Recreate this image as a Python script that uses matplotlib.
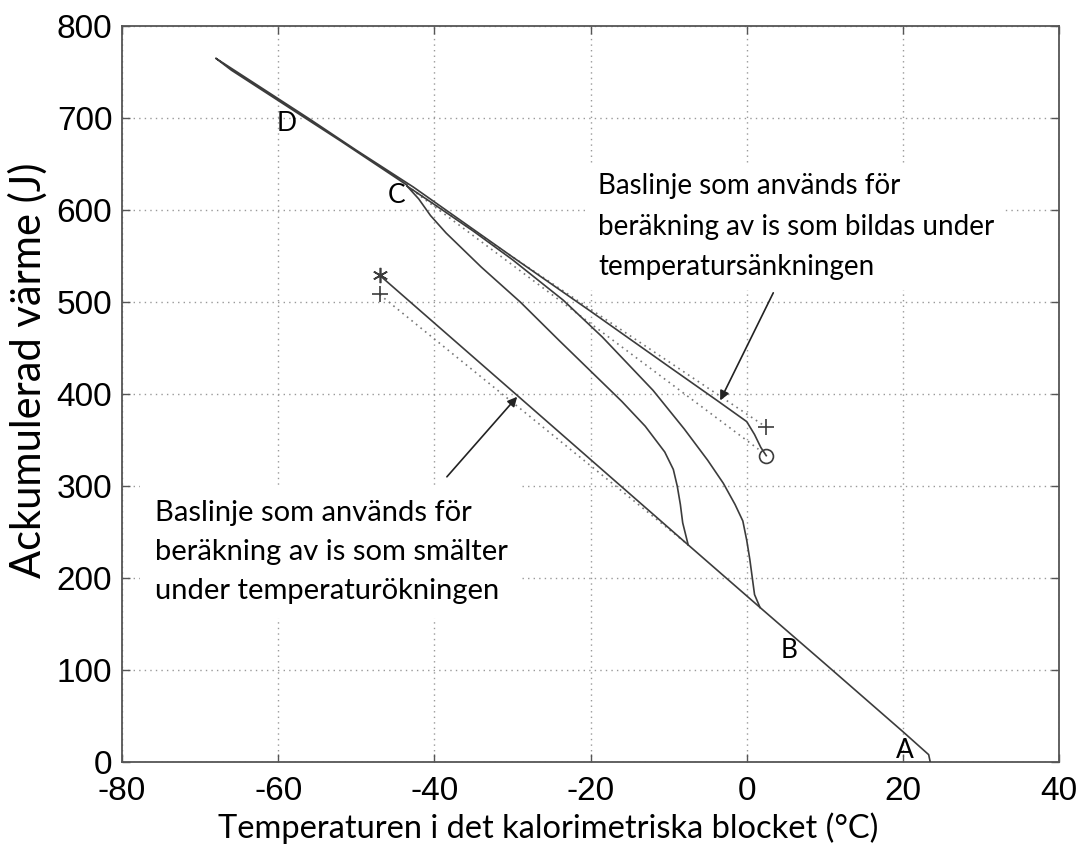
import matplotlib
matplotlib.use('Agg')
import matplotlib.pyplot as plt

plt.rcParams['axes.unicode_minus'] = False

# Uppmätta kurvor: temperatur (°C) mot ackumulerad värme (J)
# rak del från start (*) ner till A
line1_t = [-47.0, -30.0, -7.5, 1.7, 10.0, 20.0, 23.3, 23.5]
line1_q = [529, 403, 236, 168, 107, 33, 8, 0]

# övre kurvan: från cirkeln upp till -68 °C och tillbaka till C
line2_t = [2.5, 1.8, 1.0, 0.0, -3.8, -10.0, -20.0, -30.0, -42.7, -50.0, -56.0, -62.0, -68.0,
           -66.0, -60.0, -52.0, -43.5]
line2_q = [333, 342, 356, 370, 393, 430, 490, 549, 625, 665, 699, 732, 765,
           752, 719, 675, 627]

# uppvärmning från C, smältning vid ca 0 °C
line3_t = [-43.5, -40.0, -35.0, -30.0, -23.5, -18.5, -12.0, -8.0, -5.0, -3.0, -1.5, -0.5, 0.0, 0.4, 0.7, 1.0, 1.7]
line3_q = [626, 606, 577, 546, 502, 462, 404, 362, 328, 303, 280, 262, 241, 220, 201, 182, 168]

# uppvärmning från C, smältning vid ca -8 °C
line4_t = [-43.5, -42.0, -40.5, -38.5, -34.0, -29.0, -24.0, -20.0, -16.0, -13.0, -10.5, -9.4, -8.9, -8.5, -8.2, -7.5]
line4_q = [626, 612, 594, 575, 538, 500, 458, 425, 392, 365, 337, 318, 300, 280, 260, 236]

# baslinjer (prickade)
base_up_t = [-43.5, 2.5]
base_up_q = [626, 364]
base_mid_t = [-43.5, 1.5]
base_mid_q = [626, 340]
base_low_t = [-47.0, -7.5]
base_low_q = [508, 236]

# markörer
star_pt = (-47.0, 529)
plus_pts = [(-47.0, 509), (2.5, 364)]
circle_pt = (2.5, 333)

# punktbeteckningar
point_labels = ['A', 'B', 'C', 'D']
point_pos = [(20.3, 13), (5.4, 121), (-44.8, 616), (-58.9, 694)]

text_font = ['Lato', 'DejaVu Sans']
line_color = '#3c3c3c'

fig = plt.figure(figsize=(10.83, 8.56), dpi=100)
ax = fig.add_axes([0.1127, 0.1098, 0.8652, 0.8598])

ax.plot(line1_t, line1_q, color=line_color, linewidth=1.2, zorder=4)
ax.plot(line2_t, line2_q, color=line_color, linewidth=1.2, zorder=4)
ax.plot(line3_t, line3_q, color=line_color, linewidth=1.2, zorder=4)
ax.plot(line4_t, line4_q, color=line_color, linewidth=1.2, zorder=4)

for bt, bq in [(base_up_t, base_up_q), (base_mid_t, base_mid_q), (base_low_t, base_low_q)]:
    ax.plot(bt, bq, color='#777777', linewidth=1.2, linestyle=(0, (1, 2.5)), zorder=3)

ax.plot(*star_pt, marker=(6, 2, 0), markersize=11, color=line_color, markeredgewidth=1.2, zorder=5)
for px, py in plus_pts:
    ax.plot(px, py, marker='+', markersize=11, color=line_color, markeredgewidth=1.2, zorder=5)
ax.plot(*circle_pt, marker='o', markersize=10, markerfacecolor='none', markeredgecolor=line_color,
        markeredgewidth=1.2, zorder=5)

for lab, (lx, ly) in zip(point_labels, point_pos):
    ax.text(lx, ly, lab, fontsize=19, family=text_font, ha='center', va='center', zorder=6)

# förklarande texter med pilar
ax.annotate('', xy=(-3.4, 393), xytext=(3.4, 510),
            arrowprops=dict(arrowstyle='-|>', color='#222222', lw=1.2, mutation_scale=14,
                            shrinkA=0, shrinkB=0), zorder=6)
ax.annotate('', xy=(-29.4, 397), xytext=(-38.4, 310),
            arrowprops=dict(arrowstyle='-|>', color='#222222', lw=1.2, mutation_scale=14,
                            shrinkA=0, shrinkB=0), zorder=6)

ax.text(-19.05, 640, 'Baslinje som används för\nberäkning av is som bildas under\ntemperatursänkningen',
        fontsize=20, family=text_font, ha='left', va='top', linespacing=1.68, zorder=5,
        bbox=dict(boxstyle='square,pad=0.35', facecolor='white', edgecolor='none'))
ax.text(-75.8, 285, 'Baslinje som används för\nberäkning av is som smälter\nunder temperaturökningen',
        fontsize=21, family=text_font, ha='left', va='top', linespacing=1.62, zorder=5,
        bbox=dict(boxstyle='square,pad=0.5', facecolor='white', edgecolor='none'))

ax.set_xlim(-80, 40)
ax.set_ylim(0, 800)
ax.set_xticks(range(-80, 41, 20))
ax.set_yticks(range(0, 801, 100))
ax.grid(True, color='#999999', linestyle=(0, (1, 3)), linewidth=1.0)
ax.set_axisbelow(True)
ax.tick_params(direction='in', length=6, width=1.0, colors='#555555', labelcolor='black',
               top=True, right=True, labelsize=24, pad=7)
ax.tick_params(axis='x', pad=10)
for lbl in ax.get_xticklabels() + ax.get_yticklabels():
    lbl.set_family(['Liberation Sans', 'DejaVu Sans'])
for sp in ax.spines.values():
    sp.set_color('#555555')
    sp.set_linewidth(1.3)

fig.text(0.026, 0.568, 'Ackumulerad värme (J)', rotation=90, fontsize=30, family=text_font,
         ha='center', va='center')
fig.text(0.506, 0.033, 'Temperaturen i det kalorimetriska blocket (°C)', fontsize=23.5, family=text_font,
         ha='center', va='center')

fig.savefig('out.png', dpi=100, facecolor='white')
